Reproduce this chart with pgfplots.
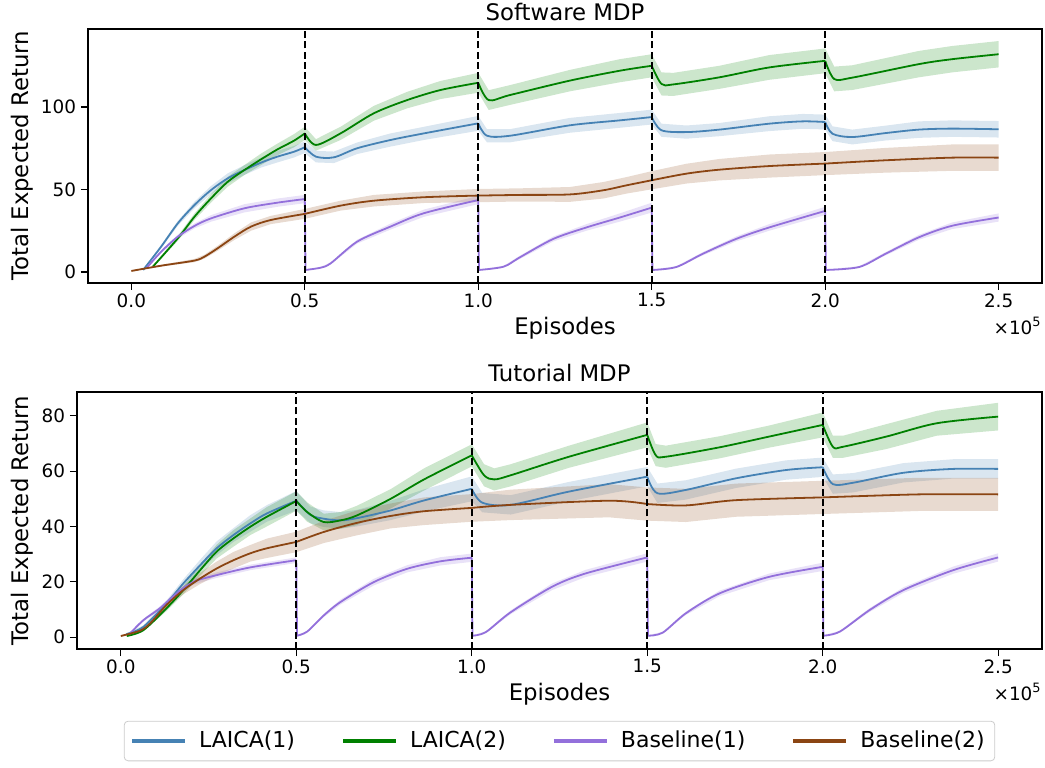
\documentclass[border=0pt]{standalone}
\usepackage{fontspec}
\setmainfont{DejaVu Sans}
\usepackage{pgfplots}
\usepackage{pgfplotstable}
\pgfplotsset{compat=1.18}
\usepgfplotslibrary{fillbetween}
\definecolor{cblue}{HTML}{4682B4}
\definecolor{cgreen}{HTML}{008000}
\definecolor{cpurple}{HTML}{9370DB}
\definecolor{cbrown}{HTML}{8B4513}

\pgfplotstableread{
x y e
0.034 1.2 0.3
0.086 15.4 1
0.134 29.5 1.5
0.182 40.6 2
0.23 49.7 2.5
0.278 56.8 3
0.326 61.8 3
0.374 66.3 3
0.421 69.9 3.5
0.469 72.9 3.5
0.5 75.6 3.5
0.532 69.9 3.5
0.584 69.5 3.5
0.651 75 3.5
0.747 80 4
0.843 84 4
1.0 90.1 4.5
1.025 82.6 4
1.092 82.6 4
1.264 88.9 4.5
1.408 91.9 4.5
1.5 93.9 4.5
1.528 85.9 4
1.6 84.8 4
1.695 86.3 4
1.839 89.9 4.5
1.935 91.3 4.5
2.0 90.9 4.5
2.021 83.8 4.5
2.078 81.8 4.5
2.174 84.2 4.5
2.27 86.3 5
2.366 86.9 5
2.5 86.5 5
}\sblue
\pgfplotstableread{
x y e
0.062 3.2 0.5
0.134 20.4 1.5
0.182 33.5 2
0.23 44.7 2.5
0.278 54.7 3
0.326 61.8 3
0.374 68.3 3.5
0.421 74.3 3.5
0.469 79.6 4
0.5 84 4
0.532 77 3.5
0.603 84 4
0.699 96.2 4.5
0.795 104.2 5
0.891 110.3 5.5
1.0 114.7 6
1.03 104.2 6
1.092 107.3 6
1.264 116 6.5
1.408 122 7
1.5 125 7
1.528 114 7
1.562 113.7 7
1.695 118 7
1.839 124 7.5
2.0 128 7.5
2.026 117 7.5
2.078 117.8 7.5
2.27 126 8
2.366 129 8
2.5 132 8
}\sgreen
\pgfplotstableread{
x y e
0.043 2.2 0.3
0.086 12.3 0.8
0.134 21.4 1.2
0.182 27.9 1.5
0.23 32.5 2
0.326 38.6 2.5
0.421 42 2.5
0.5 44.2 2.5
0.502 1.2 0.3
0.546 2.6 0.4
0.575 5.3 0.6
0.651 18.4 1.2
0.747 27.5 1.8
0.843 35.6 2.2
1.0 43.6 2.5
1.002 1.2 0.3
1.073 3.2 0.5
1.121 9 1
1.216 20 1.5
1.312 27 2
1.408 33 2.5
1.5 39 3
1.502 1.2 0.3
1.571 3 0.5
1.647 11 1
1.743 20 1.5
1.839 27 2
2.0 37 2.5
2.002 1.2 0.3
2.098 3 0.5
2.174 11 1
2.27 21 1.5
2.366 28 2
2.5 33 2.5
}\spurple
\pgfplotstableread{
x y e
0 0.6 0.3
0.086 3.8 0.5
0.182 6.9 1
0.211 9.3 1.2
0.249 14.4 1.5
0.297 21.4 2
0.345 27.5 2.5
0.402 31.5 2.5
0.5 35.2 3
0.603 40.2 3
0.699 43.2 3.5
0.843 45.3 3.5
1.0 46.3 4
1.121 46.7 4
1.264 47 4.5
1.36 49.5 5
1.427 52.5 5
1.5 55.6 5.5
1.6 59.6 6
1.695 62 6.5
1.839 64.2 7
2.0 65.7 7
2.174 67.7 7.5
2.366 69.3 8
2.5 69.3 8
}\sbrown
\pgfplotstableread{
x y e
0.016 1.1 0.3
0.064 3.7 0.5
0.13 12.2 1
0.178 19.4 1.5
0.226 26 2
0.273 32.1 2.5
0.321 36.9 2.5
0.369 41.1 3
0.416 44.7 3
0.5 49.3 3.5
0.54 44.2 3
0.578 42.8 3
0.626 42.2 3
0.673 43 3
0.769 45.8 3.5
0.864 49.4 4
1.0 53.6 4.5
1.03 48.6 3.5
1.111 47.8 3.5
1.277 52.6 3.5
1.5 58 3.5
1.529 52 3.5
1.61 53.2 3.5
1.753 57.4 3.5
1.896 60.4 3.5
2.0 61.4 3.5
2.029 55.3 3.5
2.087 55.8 3.5
2.23 59.4 3.5
2.372 60.8 3.5
2.5 60.8 3.5
}\tblue
\pgfplotstableread{
x y e
0.017 0.4 0.3
0.064 2.5 0.5
0.13 10.4 1
0.178 17 1.5
0.226 24.2 2
0.273 30.9 2.5
0.321 35.7 3
0.369 39.9 3
0.416 43.5 3.5
0.5 49.2 3.5
0.531 45.2 3.5
0.578 41.6 3
0.626 42.2 3
0.673 44 3.5
0.769 50 3.5
0.864 57 4
1.0 65.7 4
1.035 58.5 4
1.064 57 4
1.111 58.5 4
1.277 65.2 4
1.5 73.1 4.5
1.524 65.8 4
1.553 65.2 4
1.706 68.6 4
1.848 72.5 4
2.0 76.7 4.5
2.029 68.8 4
2.058 68.8 4
2.182 72.5 4.5
2.325 77.3 4.5
2.5 79.7 5
}\tgreen
\pgfplotstableread{
x y e
0.026 1.3 0.2
0.064 6.1 0.5
0.111 10.4 0.7
0.159 15.8 0.9
0.207 20 1
0.273 22.4 1
0.369 25.2 1
0.5 27.8 1
0.502 0.5 0.2
0.531 2 0.3
0.578 7.8 0.6
0.626 12.7 0.9
0.721 19.9 1.2
0.816 24.7 1.3
0.911 27.4 1.5
1.0 28.7 1.5
1.002 0.5 0.2
1.04 1.8 0.3
1.111 9 0.7
1.229 18.2 1.2
1.324 23 1.3
1.5 28.8 1.5
1.502 0.5 0.2
1.544 1.6 0.3
1.61 8.6 0.6
1.706 15.8 1
1.848 21.8 1.2
2.0 25.4 1.5
2.002 0.5 0.2
2.049 2 0.3
2.134 9.8 0.7
2.23 17 1
2.372 24.2 1.3
2.5 28.8 1.5
}\tpurple
\pgfplotstableread{
x y e
0 0.4 0.3
0.054 2.3 0.4
0.083 4.9 0.6
0.13 11.6 1
0.178 17 1.5
0.226 21.2 2
0.273 24.8 2.5
0.321 27.8 3
0.369 30.3 3
0.416 32.1 3.5
0.5 34.4 3.7
0.578 38 4
0.673 41.3 4.5
0.769 43.8 4.5
0.864 45.5 5
1.0 46.7 5
1.111 47.8 5.5
1.391 49.3 6
1.5 48.1 6
1.61 47.6 6
1.753 49.5 6
2.0 50.5 6
2.277 51.6 6
2.5 51.6 6
}\tbrown

\pgfplotsset{seg/.style={line width=0.9pt, smooth, tension=0.5, forget plot}}
\newcommand{\bandfill}[3]{%
  \addplot[name path=#3u, draw=none, forget plot] table[x=x, y expr=\thisrow{y}+\thisrow{e}] {#1};
  \addplot[name path=#3l, draw=none, forget plot] table[x=x, y expr=\thisrow{y}-\thisrow{e}] {#1};
  \addplot[fill=#2, fill opacity=0.2, draw=none, forget plot] fill between[of=#3u and #3l];
}
% series that run on across the resets
\newcommand{\band}[3]{%
  \bandfill{#1}{#2}{#3}%
  \addplot[#2, seg, restrict x to domain=-1:0.5001] table[x=x, y=y] {#1};
  \addplot[#2, seg, restrict x to domain=0.4999:1.0001] table[x=x, y=y] {#1};
  \addplot[#2, seg, restrict x to domain=0.9999:1.5001] table[x=x, y=y] {#1};
  \addplot[#2, seg, restrict x to domain=1.4999:2.0001] table[x=x, y=y] {#1};
  \addplot[#2, seg, restrict x to domain=1.9999:3] table[x=x, y=y] {#1};
}
% series that restart at each reset
\newcommand{\pband}[3]{%
  \bandfill{#1}{#2}{#3}%
  \addplot[#2, seg, restrict x to domain=-1:0.501] table[x=x, y=y] {#1};
  \addplot[#2, seg, restrict x to domain=0.501:1.001] table[x=x, y=y] {#1};
  \addplot[#2, seg, restrict x to domain=1.001:1.501] table[x=x, y=y] {#1};
  \addplot[#2, seg, restrict x to domain=1.501:2.001] table[x=x, y=y] {#1};
  \addplot[#2, seg, restrict x to domain=2.001:3] table[x=x, y=y] {#1};
  \addplot[#2, line width=0.9pt, forget plot, restrict x to domain=0.4999:0.5021] table[x=x, y=y] {#1};
  \addplot[#2, line width=0.9pt, forget plot, restrict x to domain=0.9999:1.0021] table[x=x, y=y] {#1};
  \addplot[#2, line width=0.9pt, forget plot, restrict x to domain=1.4999:1.5021] table[x=x, y=y] {#1};
  \addplot[#2, line width=0.9pt, forget plot, restrict x to domain=1.9999:2.0021] table[x=x, y=y] {#1};
}
\newcommand{\vlines}[2]{%
  \addplot[black, line width=0.9pt, dash pattern=on 3.5pt off 1.6pt, forget plot] coordinates {(0.5,#1) (0.5,#2)};
  \addplot[black, line width=0.9pt, dash pattern=on 3.5pt off 1.6pt, forget plot] coordinates {(1.0,#1) (1.0,#2)};
  \addplot[black, line width=0.9pt, dash pattern=on 3.5pt off 1.6pt, forget plot] coordinates {(1.5,#1) (1.5,#2)};
  \addplot[black, line width=0.9pt, dash pattern=on 3.5pt off 1.6pt, forget plot] coordinates {(2.0,#1) (2.0,#2)};
}

\pgfplotsset{
  myax/.style={
    scale only axis,
    anchor=south west,
    xmin=-0.125, xmax=2.625,
    xtick={0,0.5,1,1.5,2,2.5},
    xticklabels={0.0,0.5,1.0,1.5,2.0,2.5},
    tick align=outside, tick pos=left,
    major tick length=3.5pt,
    axis line style={line width=0.6pt},
    every tick/.style={black, line width=0.6pt},
    tick label style={font=\fontsize{9.2}{11}\selectfont, inner sep=0pt},
    xticklabel style={yshift=-1.5pt},
    yticklabel style={xshift=-2.3pt},
    /pgf/number format/assume math mode=true,
    label style={font=\fontsize{11.4}{13}\selectfont},
    every axis title shift=0pt,
    title style={font=\fontsize{11.4}{13}\selectfont, at={(rel axis cs:0.5,1)}, anchor=base, inner sep=0pt},
    xlabel style={at={(rel axis cs:0.5,0)}, anchor=north, inner sep=0pt, yshift=-17pt},
    ylabel style={at={(rel axis cs:0,0.5)}, anchor=south, inner sep=0pt},
    xlabel={Episodes},
    ylabel={Total Expected Return},
    after end axis/.code={\node[anchor=north east, inner sep=0pt, yshift=-17pt, font=\fontsize{9.2}{11}\selectfont] at (rel axis cs:1,0) {×10\textsuperscript{5}};},
  }
}

\begin{document}
\begin{tikzpicture}
\path (0,0) rectangle (522.5pt,383.5pt);
\begin{axis}[myax, at={(44pt,242pt)}, width=477pt, height=127pt,
  ymin=-6.7, ymax=147.3, ytick={0,50,100},
  title={Software MDP}, title style={yshift=4.3pt},
  ylabel style={yshift=27pt}]
\band{\sblue}{cblue}{a}
\band{\sgreen}{cgreen}{b}
\pband{\spurple}{cpurple}{c}
\band{\sbrown}{cbrown}{d}
\vlines{-6.7}{147.3}
\end{axis}
\begin{axis}[myax, at={(38.5pt,59pt)}, width=482.5pt, height=128.5pt,
  ymin=-4.3, ymax=88.6, ytick={0,20,40,60,80},
  title={Tutorial MDP}, title style={yshift=5.3pt},
  ylabel style={yshift=21.5pt},
  legend columns=4,
  legend style={at={(0.5,-0.358)}, anchor=center, draw=black!20, rounded corners=2pt,
    font=\fontsize{11}{13}\selectfont, inner xsep=3pt, inner ysep=3pt,
    /tikz/every odd column/.append style={column sep=4pt},
    /tikz/every even column/.append style={column sep=21pt}},
  legend image code/.code={\draw[#1] (0pt,0pt) -- (26.5pt,0pt);}]
\addlegendimage{cblue, line width=2pt}\addlegendentry{LAICA(1)}
\addlegendimage{cgreen, line width=2pt}\addlegendentry{LAICA(2)}
\addlegendimage{cpurple, line width=2pt}\addlegendentry{Baseline(1)}
\addlegendimage{cbrown, line width=2pt}\addlegendentry{Baseline(2)}
\band{\tblue}{cblue}{e}
\band{\tgreen}{cgreen}{f}
\pband{\tpurple}{cpurple}{g}
\band{\tbrown}{cbrown}{h}
\vlines{-4.3}{88.6}
\end{axis}
\end{tikzpicture}
\end{document}
